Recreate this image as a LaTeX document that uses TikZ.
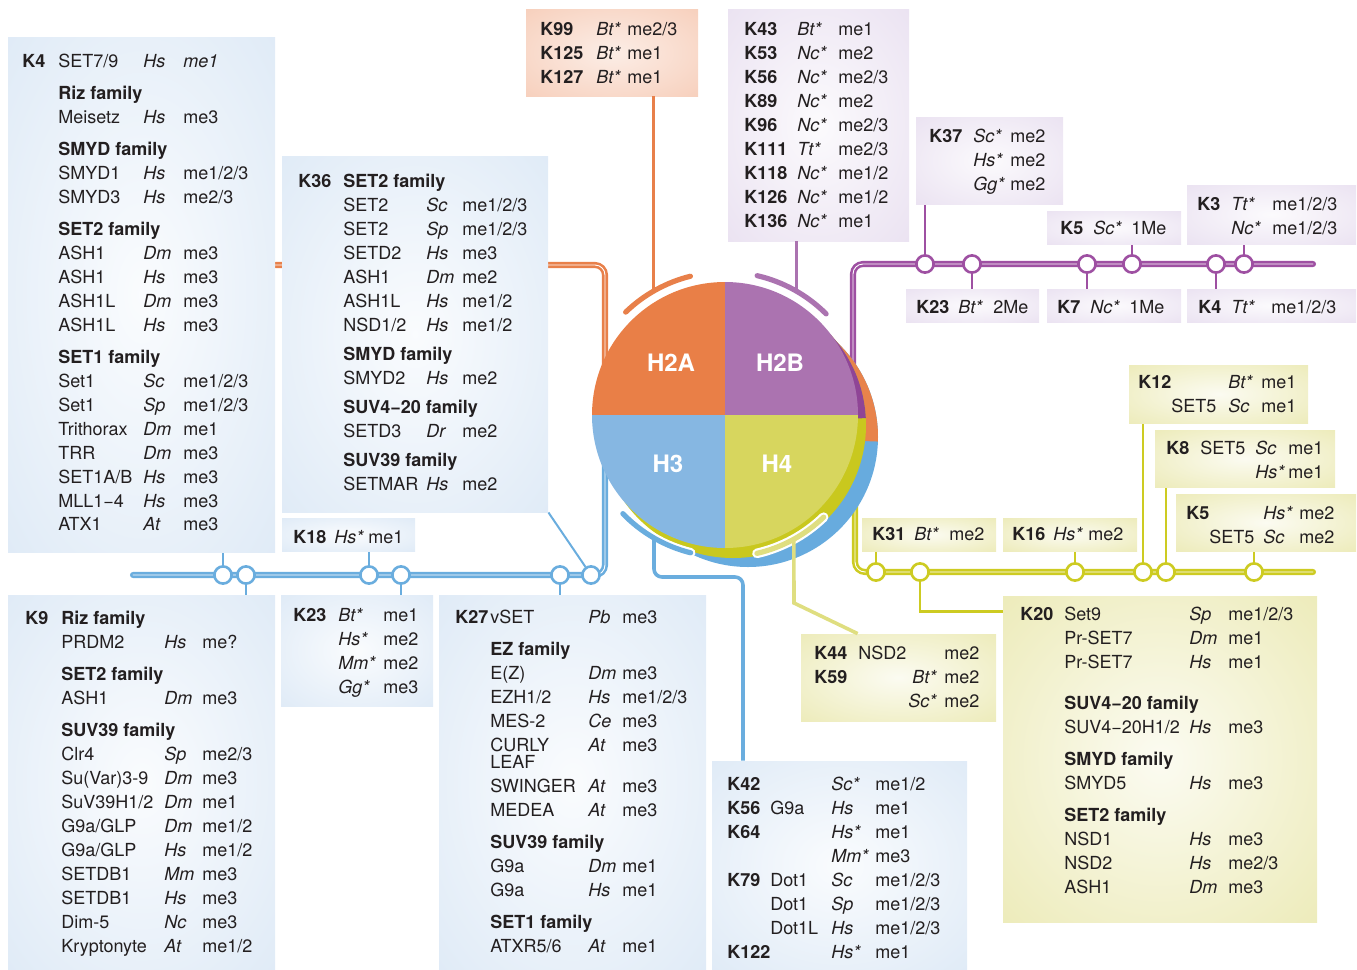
\documentclass[tikz,border=0pt]{standalone}
\usepackage{fontspec}
\setmainfont{TeX Gyre Heros}
\usepackage{array}
\usetikzlibrary{positioning, calc, fit}

\definecolor{textdark}{HTML}{231F20}
\definecolor{lineblue}{HTML}{6AADDE}
\definecolor{lineorange}{HTML}{E8804A}
\definecolor{linepurple}{HTML}{9E50A2}
\definecolor{lineyellow}{HTML}{CDCB22}
\definecolor{linepale}{HTML}{DFDE80}
\definecolor{quadH2A}{HTML}{E97F47}
\definecolor{quadH2B}{HTML}{AB73B0}
\definecolor{quadH3}{HTML}{86B7E2}
\definecolor{quadH4}{HTML}{D7D65E}
\definecolor{deepPurple}{HTML}{8F4596}
\definecolor{deepYellow}{HTML}{C9C81E}
\definecolor{backBlue}{HTML}{67ABDE}
\definecolor{backOrange}{HTML}{E8834B}
\definecolor{edgeBlue}{HTML}{D5E4F4}
\definecolor{edgePurple}{HTML}{E4D9ED}
\definecolor{edgeYellow}{HTML}{E7E5A4}
\definecolor{edgeOrange}{HTML}{F5C4AC}
\colorlet{midBlue}{edgeBlue!12!white}
\colorlet{midPurple}{edgePurple!12!white}
\colorlet{midYellow}{edgeYellow!15!white}
\colorlet{midOrange}{edgeOrange!30!white}

\pgfdeclareradialshading{glowblue}{\pgfpoint{0bp}{0bp}}{color(0bp)=(midBlue); color(50bp)=(edgeBlue)}
\pgfdeclareradialshading{glowpurple}{\pgfpoint{0bp}{0bp}}{color(0bp)=(midPurple); color(50bp)=(edgePurple)}
\pgfdeclareradialshading{glowyellow}{\pgfpoint{0bp}{0bp}}{color(0bp)=(midYellow); color(50bp)=(edgeYellow)}
\pgfdeclareradialshading{gloworange}{\pgfpoint{0bp}{0bp}}{color(0bp)=(midOrange); color(50bp)=(edgeOrange)}

\pgfdeclarelayer{lines}
\pgfsetlayers{lines,main}

\setlength{\tabcolsep}{0pt}
\newcolumntype{K}[1]{>{\bfseries}w{l}{#1}}
\newcolumntype{N}[1]{w{l}{#1}}
\newcolumntype{I}[1]{>{\itshape}w{l}{#1}}
\newcolumntype{J}[1]{>{\itshape}w{r}{#1}}
\newcommand{\famrow}[1]{\multicolumn{3}{l}{\bfseries #1}}
\newcommand{\mns}{\symbol{"2212}}

\tikzset{
    box/.style={shading=#1, draw=none, inner sep=0pt},
    txt/.style={anchor=base west, inner sep=0pt, text=textdark},
    station/.style={circle, draw=#1, fill=white, line width=1.3pt, minimum size=8.6pt, inner sep=0pt},
    metro/.style={draw=#1, line width=1.3pt, double=white, double distance=0.45pt, line cap=round, rounded corners=5pt},
    stub/.style={draw=#1, line width=1.3pt},
    link/.style={draw=#1, line width=1.8pt},
    band/.style={draw=#1, line width=2.6pt, line cap=round, preaction={draw=white, line width=4.8pt, line cap=round}},
    hlabel/.style={text=white, font=\fontsize{12}{12}\selectfont\bfseries}
}

\begin{document}
\begin{tikzpicture}[x=0.5pt, y=-0.5pt, font=\fontsize{9}{12}\selectfont]
    \useasboundingbox (0,0) rectangle (1357,970);

    % nucleosome discs
    \coordinate (hub) at (725,415);
    \coordinate (hubMid) at (733,425);
    \coordinate (hubBack) at (748,437);
    \fill[backBlue] (hubBack) circle[radius=130];
    \fill[backOrange] (hubBack) -- +(2:130) arc[start angle=2, end angle=-80, radius=130] -- cycle;
    \fill[deepYellow] (hubMid) circle[radius=133];
    \fill[deepPurple] (hubMid) -- +(-3:133) arc[start angle=-3, end angle=-90, radius=133] -- cycle;
    \fill[quadH2A] (hub) -- +(-90:133) arc[start angle=-90, end angle=-180, radius=133] -- cycle;
    \fill[quadH2B] (hub) -- +(0:133) arc[start angle=0, end angle=-90, radius=133] -- cycle;
    \fill[quadH3] (hub) -- +(90:133) arc[start angle=90, end angle=180, radius=133] -- cycle;
    \fill[quadH4] (hub) -- +(0:133) arc[start angle=0, end angle=90, radius=133] -- cycle;
    \node[hlabel] (lbH2A) at (671,363) {H2A};
    \node[hlabel] (lbH2B) at (780,363) {H2B};
    \node[hlabel] (lbH3) at (668,464) {H3};
    \node[hlabel] (lbH4) at (777,464) {H4};

    % tail arcs
    \draw[band=lineorange] ($(hub)+(-134:143)$) arc[start angle=-134, end angle=-104, radius=143];
    \draw[band=quadH2B] ($(hub)+(-77:143)$) arc[start angle=-77, end angle=-45, radius=143];
    \draw[band=lineblue] ($(hub)+(136:142)$) arc[start angle=136, end angle=104, radius=142];
    \draw[band=linepale] ($(hub)+(77:142)$) arc[start angle=77, end angle=46, radius=142];
    \coordinate (aH2A) at ($(hub)+(-120:143)$);
    \coordinate (aH2B) at ($(hub)+(-60:143)$);
    \coordinate (aH3) at ($(hub)+(120:142)$);
    \coordinate (aH4) at ($(hub)+(61:142)$);

    % boxes
    \node[box=glowblue, fit={(8,37) (275,552)}] (boxK4) {};
    \node[box=glowblue, fit={(282,156) (548,512)}] (boxK36) {};
    \node[box=glowblue, fit={(282,518) (415,551)}] (boxK18) {};
    \node[box=glowblue, fit={(8,595) (275,970)}] (boxK9) {};
    \node[box=glowblue, fit={(281,595) (433,706)}] (boxK23b) {};
    \node[box=glowblue, fit={(439,595) (706,970)}] (boxK27) {};
    \node[box=glowblue, fit={(712,761) (967,970)}] (boxK42) {};
    \node[box=gloworange, fit={(526,9) (698,96)}] (boxK99) {};
    \node[box=glowpurple, fit={(728,9) (909,241)}] (boxK43) {};
    \node[box=glowpurple, fit={(916,117) (1063,204)}] (boxK37) {};
    \node[box=glowpurple, fit={(1047,211) (1181,244)}] (boxK5p) {};
    \node[box=glowpurple, fit={(1187,185) (1356,244)}] (boxK3) {};
    \node[box=glowpurple, fit={(906,289) (1039,322)}] (boxK23p) {};
    \node[box=glowpurple, fit={(1047,289) (1181,322)}] (boxK7) {};
    \node[box=glowpurple, fit={(1187,289) (1356,322)}] (boxK4p) {};
    \node[box=glowyellow, fit={(1129,365) (1308,423)}] (boxK12) {};
    \node[box=glowyellow, fit={(1155,430) (1335,487)}] (boxK8) {};
    \node[box=glowyellow, fit={(1176,494) (1356,551)}] (boxK5y) {};
    \node[box=glowyellow, fit={(862,518) (996,551)}] (boxK31) {};
    \node[box=glowyellow, fit={(1003,518) (1137,551)}] (boxK16) {};
    \node[box=glowyellow, fit={(801,634) (996,721)}] (boxK44) {};
    \node[box=glowyellow, fit={(1003,596) (1317,922)}] (boxK20) {};

    % H3 texts
    \node[txt] (txK4) at (22,67) {\begin{tabular}[t]{K{18pt}N{42.5pt}I{20pt}l}
        K4 & SET7/9 & Hs & \textit{me1}\\[4pt]
        & \famrow{Riz family}\\
        & Meisetz & Hs & me3\\[4pt]
        & \famrow{SMYD family}\\
        & SMYD1 & Hs & me1/2/3\\
        & SMYD3 & Hs & me2/3\\[4pt]
        & \famrow{SET2 family}\\
        & ASH1 & Dm & me3\\
        & ASH1 & Hs & me3\\
        & ASH1L & Dm & me3\\
        & ASH1L & Hs & me3\\[4pt]
        & \famrow{SET1 family}\\
        & Set1 & Sc & me1/2/3\\
        & Set1 & Sp & me1/2/3\\
        & Trithorax & Dm & me1\\
        & TRR & Dm & me3\\
        & SET1A/B & Hs & me3\\
        & MLL1\mns4 & Hs & me3\\
        & ATX1 & At & me3
    \end{tabular}};
    \node[txt] (txK36) at (298,187) {\begin{tabular}[t]{K{22.5pt}N{41.5pt}I{18pt}l}
        K36 & \famrow{SET2 family}\\
        & SET2 & Sc & me1/2/3\\
        & SET2 & Sp & me1/2/3\\
        & SETD2 & Hs & me3\\
        & ASH1 & Dm & me2\\
        & ASH1L & Hs & me1/2\\
        & NSD1/2 & Hs & me1/2\\[2.5pt]
        & \famrow{SMYD family}\\
        & SMYD2 & Hs & me2\\[2.5pt]
        & \famrow{SUV4\mns20 family}\\
        & SETD3 & Dr & me2\\[2.5pt]
        & \famrow{SUV39 family}\\
        & SETMAR & Hs & me2
    \end{tabular}};
    \node[txt] (txK18) at (293,543) {\begin{tabular}[t]{K{20.5pt}I{17pt}l}
        K18 & Hs* & me1
    \end{tabular}};
    \node[txt] (txK9) at (25,624.5) {\begin{tabular}[t]{K{18pt}N{51.5pt}I{19pt}l}
        K9 & \famrow{Riz family}\\
        & PRDM2 & Hs & me?\\[4pt]
        & \famrow{SET2 family}\\
        & ASH1 & Dm & me3\\[4pt]
        & \famrow{SUV39 family}\\
        & Clr4 & Sp & me2/3\\
        & Su(Var)3-9 & Dm & me3\\
        & SuV39H1/2 & Dm & me1\\
        & G9a/GLP & Dm & me1/2\\
        & G9a/GLP & Hs & me1/2\\
        & SETDB1 & Mm & me3\\
        & SETDB1 & Hs & me3\\
        & Dim-5 & Nc & me3\\
        & Kryptonyte & At & me1/2
    \end{tabular}};
    \node[txt] (txK23b) at (293,621.5) {\begin{tabular}[t]{K{22.5pt}I{22.5pt}l}
        K23 & Bt* & me1\\
        & Hs* & me2\\
        & Mm* & me2\\
        & Gg* & me3
    \end{tabular}};
    \node[txt] (txK27) at (455,623.5) {\begin{tabular}[t]{K{17.5pt}N{49pt}I{17pt}l}
        K27 & vSET & Pb & me3\\[4pt]
        & \famrow{EZ family}\\
        & E(Z) & Dm & me3\\
        & EZH1/2 & Hs & me1/2/3\\
        & MES-2 & Ce & me3\\
        & \begin{tabular}[t]{@{}l@{}}CURLY\\[-3.5pt]LEAF\end{tabular} & At & me3\\[1.5pt]
        & SWINGER & At & me3\\
        & MEDEA & At & me3\\[4pt]
        & \famrow{SUV39 family}\\
        & G9a & Dm & me1\\
        & G9a & Hs & me1\\[4pt]
        & \famrow{SET1 family}\\
        & ATXR5/6 & At & me1
    \end{tabular}};
    \node[txt] (txK42) at (727,790.5) {\begin{tabular}[t]{K{21.5pt}N{30.5pt}I{22pt}l}
        K42 & & Sc* & me1/2\\
        K56 & G9a & Hs & me1\\
        K64 & & Hs* & me1\\
        & & Mm* & me3\\
        K79 & Dot1 & Sc & me1/2/3\\
        & Dot1 & Sp & me1/2/3\\
        & Dot1L & Hs & me1/2/3\\
        K122 & & Hs* & me1
    \end{tabular}};

    % H2A and H2B texts
    \node[txt] (txK99) at (540,35.5) {\begin{tabular}[t]{K{28pt}I{15.5pt}l}
        K99 & Bt* & me2/3\\
        K125 & Bt* & me1\\
        K127 & Bt* & me1
    \end{tabular}};
    \node[txt] (txK43) at (744,35.5) {\begin{tabular}[t]{K{26.5pt}I{20.5pt}l}
        K43 & Bt* & me1\\
        K53 & Nc* & me2\\
        K56 & Nc* & me2/3\\
        K89 & Nc* & me2\\
        K96 & Nc* & me2/3\\
        K111 & Tt* & me2/3\\
        K118 & Nc* & me1/2\\
        K126 & Nc* & me1/2\\
        K136 & Nc* & me1
    \end{tabular}};
    \node[txt] (txK37) at (929,142.5) {\begin{tabular}[t]{K{22pt}I{18.5pt}l}
        K37 & Sc* & me2\\
        & Hs* & me2\\
        & Gg* & me2
    \end{tabular}};
    \node[txt] (txK5p) at (1060,234.5) {\begin{tabular}[t]{K{16.5pt}I{19pt}l}
        K5 & Sc* & 1Me
    \end{tabular}};
    \node[txt] (txK3) at (1197,210.5) {\begin{tabular}[t]{K{17pt}I{20.5pt}l}
        K3 & Tt* & me1/2/3\\
        & Nc* & me1/2/3
    \end{tabular}};
    \node[txt] (txK23p) at (916,313.5) {\begin{tabular}[t]{K{21pt}I{17.5pt}l}
        K23 & Bt* & 2Me
    \end{tabular}};
    \node[txt] (txK7) at (1057,313.5) {\begin{tabular}[t]{K{16.5pt}I{19.5pt}l}
        K7 & Nc* & 1Me
    \end{tabular}};
    \node[txt] (txK4p) at (1198,313.5) {\begin{tabular}[t]{K{16.5pt}I{20pt}l}
        K4 & Tt* & me1/2/3
    \end{tabular}};

    % H4 texts
    \node[txt] (txK12) at (1138,388.5) {\begin{tabular}[t]{K{16.5pt}N{28.5pt}I{16.5pt}l}
        K12 & & Bt* & me1\\
        & SET5 & Sc & me1
    \end{tabular}};
    \node[txt] (txK8) at (1166,454.5) {\begin{tabular}[t]{K{17pt}N{27.5pt}I{16.5pt}l}
        K8 & SET5 & Sc & me1\\
        & & Hs* & me1
    \end{tabular}};
    \node[txt] (txK5y) at (1186,519.5) {\begin{tabular}[t]{K{11.5pt}N{27pt}I{18pt}l}
        K5 & & Hs* & me2\\
        & SET5 & Sc & me2
    \end{tabular}};
    \node[txt] (txK31) at (872,540.5) {\begin{tabular}[t]{K{21pt}I{17.5pt}l}
        K31 & Bt* & me2
    \end{tabular}};
    \node[txt] (txK16) at (1012,540.5) {\begin{tabular}[t]{K{20.5pt}I{17.5pt}l}
        K16 & Hs* & me2
    \end{tabular}};
    \node[txt] (txK44) at (814,659.5) {\begin{tabular}[t]{K{22pt}N{22pt}J{17pt}@{\hspace{4pt}}l}
        K44 & NSD2 & & me2\\
        K59 & & Bt* & me2\\
        & & Sc* & me2
    \end{tabular}};
    \node[txt] (txK20) at (1020,620.5) {\begin{tabular}[t]{K{22pt}N{62.5pt}I{19.5pt}l}
        K20 & Set9 & Sp & me1/2/3\\
        & Pr-SET7 & Dm & me1\\
        & Pr-SET7 & Hs & me1\\[8.5pt]
        & \famrow{SUV4\mns20 family}\\
        & SUV4\mns20H1/2 & Hs & me3\\[4pt]
        & \famrow{SMYD family}\\
        & SMYD5 & Hs & me3\\[4pt]
        & \famrow{SET2 family}\\
        & NSD1 & Hs & me3\\
        & NSD2 & Hs & me2/3\\
        & ASH1 & Dm & me3
    \end{tabular}};

    % stations
    \node[station=lineblue] (sK4) at (223,575) {};
    \node[station=lineblue] (sK9) at (246,575) {};
    \node[station=lineblue] (sK18) at (369,575) {};
    \node[station=lineblue] (sK23b) at (401,575) {};
    \node[station=lineblue] (sK27) at (560,575) {};
    \node[station=lineblue] (sK36) at (591,575) {};
    \node[station=linepurple] (sK37) at (925,264) {};
    \node[station=linepurple] (sK23p) at (972,264) {};
    \node[station=linepurple] (sK7) at (1087,264) {};
    \node[station=linepurple] (sK5p) at (1132,264) {};
    \node[station=linepurple] (sK4p) at (1216,264) {};
    \node[station=linepurple] (sK3) at (1244,264) {};
    \node[station=lineyellow] (sK31) at (876,572) {};
    \node[station=lineyellow] (sK20) at (920,572) {};
    \node[station=lineyellow] (sK16) at (1075,572) {};
    \node[station=lineyellow] (sK12) at (1143,572) {};
    \node[station=lineyellow] (sK8) at (1166,572) {};
    \node[station=lineyellow] (sK5y) at (1254,572) {};

    % links from the tails
    \coordinate (bendH3) at (743,577);
    \coordinate (bendH4) at (794,603);
    \coordinate (dockK44) at ($(boxK44.north west)+(57,0)$);
    \draw[link=lineorange] (aH2A) -- (aH2A |- boxK99.south);
    \draw[link=quadH2B] (aH2B) -- (aH2B |- boxK43.south);
    \draw[link=lineblue, rounded corners=4pt] (aH3) |- (bendH3) -- (bendH3 |- boxK42.north);
    \draw[link=linepale] (aH4) -- (bendH4) -- (dockK44);

    \begin{pgfonlayer}{lines}
        \coordinate (h2aIn) at (605,420);
        \coordinate (h3In) at (605,430);
        \coordinate (h2bIn) at (853,420);
        \coordinate (h4In) at (855,430);
        \coordinate (h3Tail) at (133,575);
        \coordinate (h2bTail) at (1313,264);
        \coordinate (h4Tail) at (1313,572);
        \draw[metro=lineorange] (boxK4.east |- 0,265) -| (h2aIn);
        \draw[metro=lineblue] (h3Tail) -| (h3In);
        \draw[metro=linepurple] (h2bTail) -| (h2bIn);
        \draw[metro=lineyellow] (h4Tail) -| (h4In);

        \draw[stub=lineblue] (sK4) -- (sK4 |- boxK4.south);
        \draw[stub=lineblue] (sK9) -- (sK9 |- boxK9.north);
        \draw[stub=lineblue] (sK18) -- (sK18 |- boxK18.south);
        \draw[stub=lineblue] (sK23b) -- (sK23b |- boxK23b.north);
        \draw[stub=lineblue] (sK27) -- (sK27 |- boxK27.north);
        \draw[lineblue, line width=1pt] (boxK36.south east) -- (sK36);

        \draw[stub=linepurple] (sK37) -- (sK37 |- boxK37.south);
        \draw[stub=linepurple] (sK23p) -- (sK23p |- boxK23p.north);
        \draw[stub=linepurple] (sK7) -- (sK7 |- boxK7.north);
        \draw[stub=linepurple] (sK5p) -- (sK5p |- boxK5p.south);
        \draw[stub=linepurple] (sK4p) -- (sK4p |- boxK4p.north);
        \draw[stub=linepurple] (sK3) -- (sK3 |- boxK3.south);

        \draw[stub=lineyellow] (sK31) -- (sK31 |- boxK31.south);
        \draw[stub=lineyellow] (sK20) |- ($(boxK20.north west)+(0,16)$);
        \draw[stub=lineyellow] (sK16) -- (sK16 |- boxK16.south);
        \draw[stub=lineyellow] (sK12) -- (sK12 |- boxK12.south);
        \draw[stub=lineyellow] (sK8) -- (sK8 |- boxK8.south);
        \draw[stub=lineyellow] (sK5y) -- (sK5y |- boxK5y.south);
    \end{pgfonlayer}
\end{tikzpicture}
\end{document}
